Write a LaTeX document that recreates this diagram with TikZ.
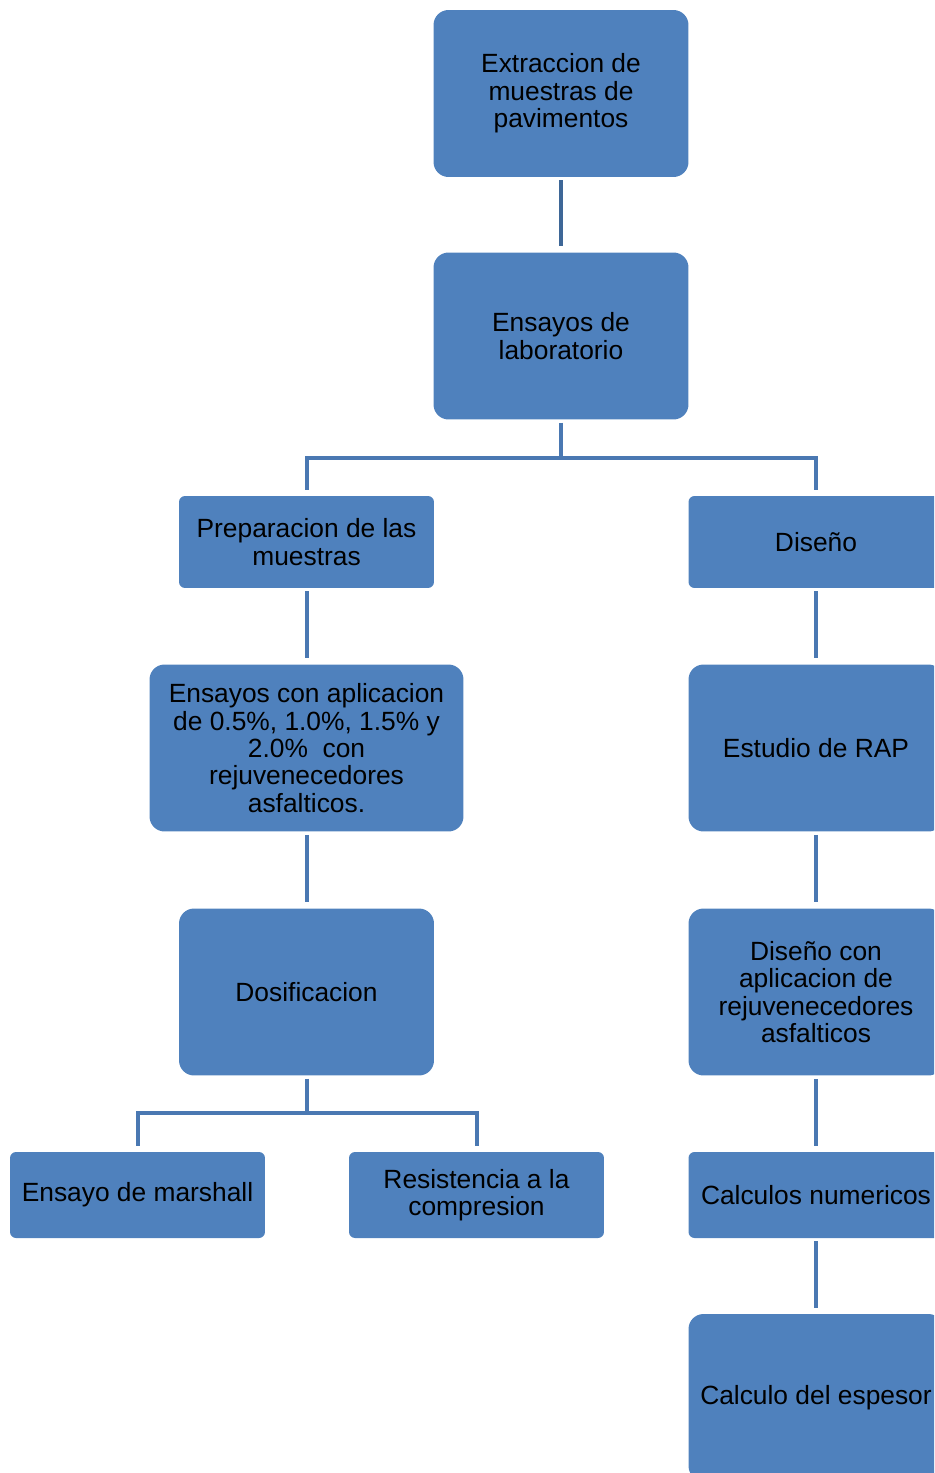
\documentclass[tikz,border=0pt]{standalone}
\usepackage{fontspec}
\setmainfont{Liberation Sans}
\usepackage{tikz}
\usetikzlibrary{shapes,arrows,positioning}
\definecolor{boxblue}{HTML}{4F81BD}
\definecolor{linkblue}{HTML}{4A78B2}
\definecolor{linkdark}{HTML}{3E6797}
\tikzstyle{bigbox} = [rectangle, rounded corners=0.3cm, fill=boxblue, minimum width=5.1cm, minimum height=3.34cm, inner sep=0pt, align=center, font=\fontsize{15}{15.6}\selectfont]
\tikzstyle{smallbox} = [bigbox, rounded corners=0.12cm, minimum height=1.84cm]
\tikzstyle{line} = [draw, linkblue, line width=0.08cm, shorten <=0.06cm, shorten >=0.12cm]

\begin{document}
\begin{tikzpicture}[x=0.02cm, y=-0.02cm]
			\clip (0,0) rectangle (934,1473);
			\node [bigbox] (extr) at (561, 93.5) {Extraccion de\\muestras de\\pavimentos};
			\node [bigbox] (lab) at (561, 336) {Ensayos de\\laboratorio};
			\node [smallbox] (prep) at (306.5, 542) {Preparacion de las\\muestras};
			\node [smallbox] (dis) at (816, 542) {Diseño};
			\node [bigbox, minimum width=6.28cm] (apl) at (306.5, 748) {Ensayos con aplicacion\\de 0.5\%, 1.0\%, 1.5\% y\\2.0\%~ con\\rejuvenecedores\\asfalticos.};
			\node [bigbox] (rap) at (816, 748) {Estudio de RAP};
			\node [bigbox] (dos) at (306.5, 992) {Dosificacion};
			\node [bigbox] (disrej) at (816, 992) {Diseño con\\aplicacion de\\rejuvenecedores\\asfalticos};
			\node [smallbox, minimum height=1.72cm] (mar) at (137.5, 1195) {Ensayo de marshall};
			\node [smallbox, minimum height=1.72cm] (comp) at (476.5, 1195) {Resistencia a la\\compresion};
			\node [smallbox, minimum height=1.72cm] (calc) at (816, 1195) {Calculos numericos};
			\node [bigbox] (esp) at (816, 1397.5) {Calculo del espesor};

			\path [line, linkdark] (extr) -- (lab);
			\path [line] (lab.south) -- ++(0,38) -| (prep.north);
			\path [line] (lab.south) -- ++(0,38) -| (dis.north);
			\path [line] (prep) -- (apl);
			\path [line] (apl) -- (dos);
			\path [line] (dos.south) -- ++(0,37) -| (mar.north);
			\path [line] (dos.south) -- ++(0,37) -| (comp.north);
			\path [line] (dis) -- (rap);
			\path [line] (rap) -- (disrej);
			\path [line] (disrej) -- (calc);
			\path [line] (calc) -- (esp);
		\end{tikzpicture}
\end{document}
